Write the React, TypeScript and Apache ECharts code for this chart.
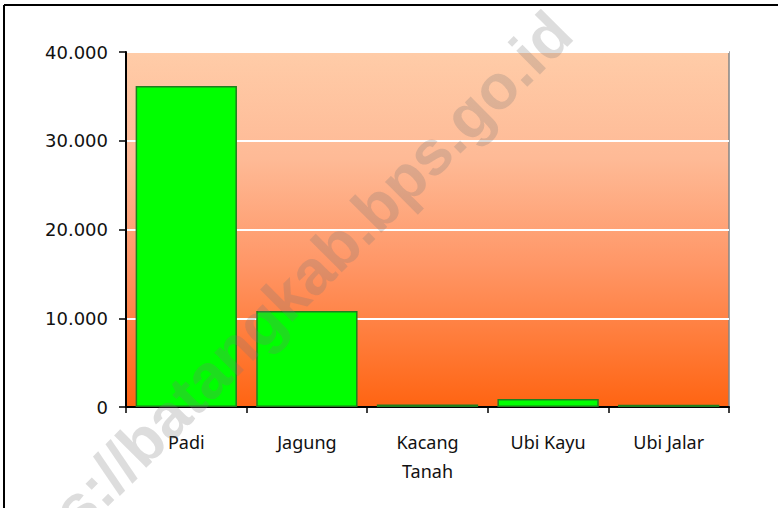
import React, { useEffect, useRef } from "react";
import * as echarts from "echarts";

const categories = ["Padi", "Jagung", "Kacang\nTanah", "Ubi Kayu", "Ubi Jalar"];
const production = [36160, 10830, 270, 900, 250];
const yTicks = { min: 0, max: 40000, interval: 10000 };
const watermark = "https://batangkab.bps.go.id";

const fmt = (v: number) => String(v).replace(/\B(?=(\d{3})+(?!\d))/g, ".");

export default function App() {
  const ref = useRef<HTMLDivElement>(null);
  useEffect(() => {
    document.body.style.margin = "0";
    const chart = echarts.init(ref.current!, null, { renderer: "svg" });
    chart.setOption({
      animation: false,
      backgroundColor: "#ffffff",
      grid: {
        left: 126,
        top: 52,
        right: 49,
        bottom: 101,
        show: true,
        borderColor: "#858585",
        borderWidth: 1.5,
        backgroundColor: {
          type: "linear",
          x: 0,
          y: 0,
          x2: 0,
          y2: 1,
          colorStops: [
            { offset: 0, color: "#FFCCA8" },
            { offset: 0.3, color: "#FEBA96" },
            { offset: 0.6, color: "#FF9666" },
            { offset: 1, color: "#FF6412" },
          ],
        },
      },
      xAxis: {
        type: "category",
        data: categories,
        axisLine: { show: true, lineStyle: { color: "#000", width: 2 } },
        axisTick: { show: true, length: 6, lineStyle: { color: "#000", width: 1.5 } },
        axisLabel: {
          color: "#111",
          fontFamily: "Noto Sans",
          fontSize: 18,
          margin: 20,
          lineHeight: 29,
          verticalAlign: "top",
          interval: 0,
        },
      },
      yAxis: {
        type: "value",
        min: yTicks.min,
        max: yTicks.max,
        interval: yTicks.interval,
        axisLine: { show: true, lineStyle: { color: "#000", width: 2 } },
        axisTick: { show: true, length: 7, lineStyle: { color: "#000", width: 1.5 } },
        splitLine: { show: true, lineStyle: { color: "#ffffff", width: 2 } },
        axisLabel: {
          color: "#111",
          fontFamily: "DejaVu Sans",
          fontSize: 18,
          margin: 18,
          formatter: (v: number) => fmt(v),
        },
      },
      series: [
        {
          type: "bar",
          data: production,
          barCategoryGap: "16%",
          itemStyle: { color: "#00FF00", borderColor: "#1F7F1F", borderWidth: 1.5 },
        },
      ],
      graphic: [
        {
          type: "line",
          shape: { x1: 4, y1: 5, x2: 778, y2: 5 },
          style: { stroke: "#000", lineWidth: 2 },
          z: 10,
        },
        {
          type: "line",
          shape: { x1: 4, y1: 5, x2: 4, y2: 508 },
          style: { stroke: "#000", lineWidth: 2 },
          z: 10,
        },
        {
          type: "text",
          x: 270,
          y: 313,
          rotation: (45 * Math.PI) / 180,
          z: 100,
          style: {
            text: watermark,
            fontFamily: "Liberation Sans",
            fontWeight: "bold",
            fontSize: 63,
            fill: "rgba(120,120,120,0.25)",
            align: "center",
            verticalAlign: "middle",
          },
        },
      ],
    });
    return () => chart.dispose();
  }, []);
  return <div ref={ref} style={{ width: 778, height: 508 }} />;
}
